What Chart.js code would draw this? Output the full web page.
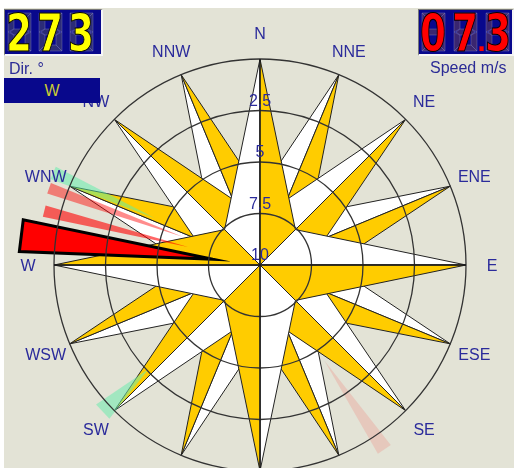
<!DOCTYPE html>
<html>
<head>
<meta charset="utf-8">
<script src="https://cdn.jsdelivr.net/npm/chart.js@4"></script>
<style>
  body { margin: 0; width: 514px; height: 468px; overflow: hidden; background: #fff; font-family: "Liberation Sans", Arial, sans-serif; }
  #panel { position: absolute; left: 4px; top: 8px; width: 510px; height: 460px; background: #e3e3d6; }
  #wrap { position: absolute; left: 0; top: 0; width: 514px; height: 480px; }
  .lcd { position: absolute; top: 9px; height: 47px; background: #08088c; box-sizing: border-box;
         border-top: 1px solid #777; border-left: 1px solid #777; border-right: 2px solid #f6f6f6; border-bottom: 2px solid #f6f6f6; overflow: hidden; }
  .lcd canvas { position: absolute; left: 0; top: 0; }
  .lcd .d { position: absolute; top: -3px; font: bold 52px "DejaVu Sans Condensed", "DejaVu Sans"; line-height: 1;
            transform: scaleX(0.8); transform-origin: 0 0; -webkit-text-stroke: 1px #000; }
  .lcd .dot { position: absolute; top: 21px; z-index: 2; font: bold 24px "DejaVu Sans"; line-height: 1; }
  .cap { position: absolute; font-size: 16px; line-height: 16px; color: #2b2b96; }
  #dirname { position: absolute; left: 4px; top: 78px; width: 96px; height: 25px; background: #08088c;
             color: #cccc33; font-size: 16px; line-height: 25px; text-align: center; }
</style>
</head>
<body>
<div id="panel"></div>
<div id="wrap"><canvas id="rose"></canvas></div>

<div class="lcd" id="dirLcd" style="left:4px; width:99px; color:#ffff00;"></div>
<div class="cap" style="left:9px; top:61px;">Dir. °</div>
<div id="dirname"></div>

<div class="lcd" id="spdLcd" style="left:418px; width:96px; color:#ff0000;"></div>
<div class="cap" style="left:430px; top:60px;">Speed m/s</div>

<script>
// compass categories and radial ticks
const directions = ["N", "NNE", "NE", "ENE", "E", "ESE", "SE", "SSE", "S", "SSW", "SW", "WSW", "W", "WNW", "NW", "NNW"];
const speedTicks = [2.5, 5, 7.5, 10];
const tickLabels = ["2,5", "5", "7,5", "10"];

// current reading
const windDir = "273";
const windSpeed = "07.3";
const windName = "W";

// wind needles (bearing in degrees, speed at the narrow end), last one is the current one
const needleDir = [146, 227, 284, 290, 294, 277];
const needleSpeed = [4.4, 2.6, 6.4, 6.0, 4.4, 7.7];

// looks of the needles
const needleLook = [
    { outer: -0.8, half: 2.0, fill: "rgba(240,120,110,0.25)" },
    { outer: -0.45, half: 2.6, fill: "rgba(110,235,175,0.55)" },
    { outer: -0.8, half: 1.5, fill: "rgba(255,0,0,0.6)" },
    { outer: -0.9, half: 1.4, fill: "rgba(255,0,0,0.45)" },
    { outer: -1.0, half: 1.7, fill: "rgba(90,240,170,0.5)" },
    { outer: -1.7, half: 3.8, fill: "#ff0000", stroke: "#000", width: 3 },
];

// dim unlit segments behind the LCD text
function ghostSegments(el, xs, ghost) {
    const c = document.createElement("canvas");
    c.width = 100; c.height = 46;
    el.appendChild(c);
    const g = c.getContext("2d");
    const w = 23, h = 38, t = 6, y0 = 3;
    xs.forEach((x0) => {
        const m = y0 + h / 2;
        const segs = [
            [[x0, y0], [x0 + w, y0], [x0 + w - t, y0 + t], [x0 + t, y0 + t]],
            [[x0, y0 + h], [x0 + w, y0 + h], [x0 + w - t, y0 + h - t], [x0 + t, y0 + h - t]],
            [[x0, y0], [x0 + t, y0 + t], [x0 + t, m - t / 2], [x0, m]],
            [[x0, m], [x0 + t, m + t / 2], [x0 + t, y0 + h - t], [x0, y0 + h]],
            [[x0 + w, y0], [x0 + w - t, y0 + t], [x0 + w - t, m - t / 2], [x0 + w, m]],
            [[x0 + w, m], [x0 + w - t, m + t / 2], [x0 + w - t, y0 + h - t], [x0 + w, y0 + h]],
            [[x0 + 2, m], [x0 + t, m - t / 2], [x0 + w - t, m - t / 2], [x0 + w - 2, m], [x0 + w - t, m + t / 2], [x0 + t, m + t / 2]],
        ];
        segs.forEach((s) => {
            g.beginPath();
            s.forEach(([x, y], i) => (i ? g.lineTo(x, y) : g.moveTo(x, y)));
            g.closePath();
            g.fillStyle = ghost;
            g.fill();
            g.strokeStyle = "rgba(150,150,200,0.35)";
            g.lineWidth = 1;
            g.stroke();
        });
    });
}

// LCD readouts as text
function fillLcd(el, text, slots) {
    let k = 0;
    for (const ch of text) {
        const s = document.createElement("span");
        s.textContent = ch;
        if (ch === ".") {
            s.className = "dot";
            s.style.left = slots.dot + "px";
        } else {
            s.className = "d";
            s.style.left = slots.digits[k++] + "px";
        }
        el.appendChild(s);
    }
}
ghostSegments(document.getElementById("dirLcd"), [3, 34, 65], "#2c2c78");
ghostSegments(document.getElementById("spdLcd"), [3, 35, 67], "#3a2670");
fillLcd(document.getElementById("dirLcd"), windDir, { digits: [1, 32, 63] });
fillLcd(document.getElementById("spdLcd"), windSpeed, { digits: [1, 33, 66], dot: 58 });
document.getElementById("dirname").textContent = windName;

const roseLevels = [
    { half: 11.25, base: 0.51 },   // minor points
    { half: 22.5, base: 0.345 },   // NE, SE, SW, NW
    { half: 45, base: 0.243 },     // N, E, S, W
];

const rosePlugin = {
    id: "rose",
    beforeDatasetsDraw(chart) {
        const r = chart.scales.r;
        const ctx = chart.ctx;
        const R = r.drawingArea;
        const at = (deg, f) => r.getPointPosition(deg / 22.5, f * R);
        ctx.save();
        ctx.lineWidth = 1;
        ctx.strokeStyle = "#222";
        roseLevels.forEach((lv, level) => {
            directions.forEach((d, k) => {
                const kl = k % 4 === 0 ? 2 : (k % 2 === 0 ? 1 : 0);
                if (kl !== level) return;
                const b = k * 22.5;
                const tip = at(b, 1);
                [[-lv.half, "#ffffff"], [lv.half, "#ffcc00"]].forEach(([h, col]) => {
                    const p = at(b + h, lv.base);
                    ctx.beginPath();
                    ctx.moveTo(r.xCenter, r.yCenter);
                    ctx.lineTo(tip.x, tip.y);
                    ctx.lineTo(p.x, p.y);
                    ctx.closePath();
                    ctx.fillStyle = col;
                    ctx.fill();
                    ctx.stroke();
                });
            });
        });
        ctx.restore();
    },
    afterDatasetsDraw(chart) {
        const r = chart.scales.r;
        const ctx = chart.ctx;
        ctx.save();
        needleDir.forEach((dir, i) => {
            const lk = needleLook[i];
            const idx = dir / 22.5;
            const tip = r.getPointPositionForValue(idx, needleSpeed[i]);
            const a = r.getPointPositionForValue(idx - lk.half / 22.5, lk.outer);
            const b = r.getPointPositionForValue(idx + lk.half / 22.5, lk.outer);
            ctx.beginPath();
            ctx.moveTo(tip.x, tip.y);
            ctx.lineTo(a.x, a.y);
            ctx.lineTo(b.x, b.y);
            ctx.closePath();
            ctx.fillStyle = lk.fill;
            ctx.fill();
            if (lk.stroke) {
                ctx.lineJoin = "miter";
                ctx.miterLimit = 30;
                ctx.lineWidth = lk.width;
                ctx.strokeStyle = lk.stroke;
                ctx.stroke();
            }
        });
        ctx.restore();
    },
    afterDraw(chart) {
        const r = chart.scales.r;
        const ctx = chart.ctx;
        ctx.save();
        ctx.font = '16px "Liberation Sans", Arial, sans-serif';
        ctx.fillStyle = "#2b2b9b";
        ctx.textAlign = "center";
        ctx.textBaseline = "alphabetic";
        chart.data.labels.forEach((lab, i) => {
            const p = r.getPointPosition(i, r.drawingArea + 26);
            ctx.fillText(lab, p.x, p.y + 6);
        });
        r.ticks.forEach((t) => {
            const i = speedTicks.indexOf(t.value);
            if (i < 0) return;
            const d = r.getDistanceFromCenterForValue(t.value);
            ctx.fillText(tickLabels[i], r.xCenter, r.yCenter - d - 5);
        });
        ctx.restore();
    },
};

new Chart(document.getElementById("rose"), {
    type: "radar",
    data: { labels: directions, datasets: [] },
    options: {
        responsive: true,
        maintainAspectRatio: false,
        animation: false,
        events: [],
        layout: { padding: { left: 54, right: 48, top: 59, bottom: 9 } },
        plugins: { legend: { display: false }, tooltip: { enabled: false } },
        scales: {
            r: {
                min: 0,
                max: 10,
                reverse: true,
                ticks: { stepSize: 2.5, display: false },
                pointLabels: { display: false },
                grid: { circular: true, color: "#333", lineWidth: 1.3, z: 1 },
                angleLines: {
                    color: (c) => (c.index % 4 === 0 ? "#1a1a1a" : null),
                    lineWidth: 1.3,
                },
            },
        },
    },
    plugins: [rosePlugin],
});
</script>
</body>
</html>
